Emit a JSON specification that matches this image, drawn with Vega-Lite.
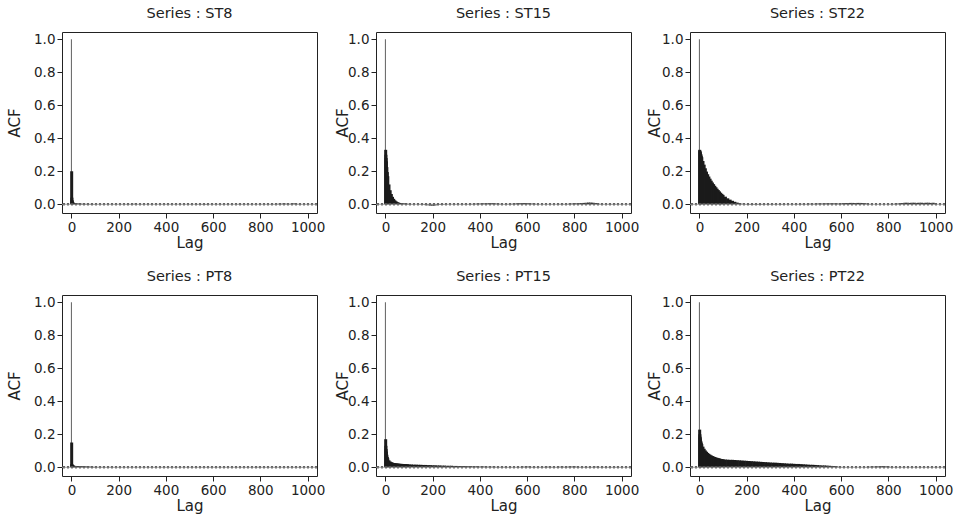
{
"$schema":"https://vega.github.io/schema/vega-lite/v6.json",
"padding":{"left":6,"top":5,"right":5,"bottom":5},
"background":"white",
"bounds":"flush",
"columns":3,
"spacing":{"row":82,"column":59},
"datasets":{
"ST8":[{"lag":0,"acf":1},{"lag":1,"acf":0.2},{"lag":2,"acf":0.04},{"lag":3,"acf":0.025},{"lag":4,"acf":0.018},{"lag":6,"acf":0.012},{"lag":8,"acf":0.009},{"lag":10,"acf":0.007},{"lag":15,"acf":0.005},{"lag":20,"acf":0.004},{"lag":25,"acf":0.004},{"lag":30,"acf":0.003},{"lag":35,"acf":0.003},{"lag":40,"acf":0.003},{"lag":45,"acf":0.002},{"lag":50,"acf":0.002},{"lag":55,"acf":0.002},{"lag":60,"acf":0.002},{"lag":65,"acf":0.001},{"lag":70,"acf":0.002},{"lag":75,"acf":0.001},{"lag":80,"acf":0.001},{"lag":85,"acf":0.002},{"lag":90,"acf":0.001},{"lag":95,"acf":0.001},{"lag":100,"acf":0.001},
{"lag":110,"acf":0.001},{"lag":120,"acf":0.0},{"lag":130,"acf":0.001},{"lag":140,"acf":-0.001},{"lag":150,"acf":0.0},{"lag":160,"acf":0.001},{"lag":170,"acf":0.0},{"lag":180,"acf":-0.001},{"lag":190,"acf":0.001},{"lag":200,"acf":0.0},
{"lag":210,"acf":0.001},{"lag":220,"acf":0.0},{"lag":230,"acf":0.001},{"lag":240,"acf":0.002},{"lag":250,"acf":0.001},{"lag":260,"acf":0.002},{"lag":270,"acf":0.003},{"lag":280,"acf":0.001},{"lag":290,"acf":0.0},{"lag":300,"acf":-0.001},
{"lag":310,"acf":0.0},{"lag":320,"acf":0.001},{"lag":330,"acf":0.0},{"lag":340,"acf":-0.001},{"lag":350,"acf":0.0},{"lag":360,"acf":0.001},{"lag":370,"acf":0.0},{"lag":380,"acf":0.001},{"lag":390,"acf":0.0},{"lag":400,"acf":-0.001},
{"lag":410,"acf":0.0},{"lag":420,"acf":0.001},{"lag":430,"acf":0.0},{"lag":440,"acf":-0.001},{"lag":450,"acf":0.0},{"lag":460,"acf":0.001},{"lag":470,"acf":0.0},{"lag":480,"acf":-0.001},{"lag":490,"acf":0.0},{"lag":500,"acf":-0.001},
{"lag":510,"acf":-0.001},{"lag":520,"acf":0.0},{"lag":530,"acf":-0.002},{"lag":540,"acf":-0.001},{"lag":550,"acf":-0.002},{"lag":560,"acf":-0.002},{"lag":570,"acf":-0.003},{"lag":580,"acf":-0.001},{"lag":590,"acf":0.0},{"lag":600,"acf":0.001},
{"lag":610,"acf":0.0},{"lag":620,"acf":0.001},{"lag":630,"acf":0.0},{"lag":640,"acf":-0.001},{"lag":650,"acf":0.0},{"lag":660,"acf":0.001},{"lag":670,"acf":0.0},{"lag":680,"acf":0.001},{"lag":690,"acf":0.0},{"lag":700,"acf":0.001},
{"lag":710,"acf":0.002},{"lag":720,"acf":0.001},{"lag":730,"acf":0.0},{"lag":740,"acf":0.001},{"lag":750,"acf":0.0},{"lag":760,"acf":-0.001},{"lag":770,"acf":0.0},{"lag":780,"acf":0.001},{"lag":790,"acf":0.0},{"lag":800,"acf":0.001},
{"lag":810,"acf":0.0},{"lag":820,"acf":0.001},{"lag":830,"acf":0.0},{"lag":840,"acf":0.001},{"lag":850,"acf":0.002},{"lag":860,"acf":0.001},{"lag":870,"acf":0.002},{"lag":880,"acf":0.003},{"lag":890,"acf":0.003},{"lag":900,"acf":0.004},
{"lag":910,"acf":0.003},{"lag":920,"acf":0.002},{"lag":930,"acf":0.003},{"lag":940,"acf":0.005},{"lag":950,"acf":0.003},{"lag":960,"acf":0.002},{"lag":970,"acf":0.001},{"lag":980,"acf":0.0},{"lag":990,"acf":0.001},{"lag":1000,"acf":0.0}],
"ST15":[{"lag":0,"acf":1},{"lag":1,"acf":0.33},{"lag":2,"acf":0.3},{"lag":3,"acf":0.28},{"lag":4,"acf":0.26},{"lag":6,"acf":0.225},{"lag":8,"acf":0.195},{"lag":10,"acf":0.17},{"lag":15,"acf":0.12},{"lag":20,"acf":0.085},{"lag":25,"acf":0.062},{"lag":30,"acf":0.045},{"lag":35,"acf":0.033},{"lag":40,"acf":0.024},{"lag":45,"acf":0.018},{"lag":50,"acf":0.013},{"lag":55,"acf":0.01},{"lag":60,"acf":0.008},{"lag":65,"acf":0.006},{"lag":70,"acf":0.005},{"lag":75,"acf":0.004},{"lag":80,"acf":0.004},{"lag":85,"acf":0.003},{"lag":90,"acf":0.003},{"lag":95,"acf":0.002},{"lag":100,"acf":0.002},
{"lag":110,"acf":0.001},{"lag":120,"acf":0.001},{"lag":130,"acf":0.0},{"lag":140,"acf":-0.001},{"lag":150,"acf":-0.002},{"lag":160,"acf":-0.003},{"lag":170,"acf":-0.005},{"lag":180,"acf":-0.006},{"lag":190,"acf":-0.007},{"lag":200,"acf":-0.008},
{"lag":210,"acf":-0.007},{"lag":220,"acf":-0.005},{"lag":230,"acf":-0.004},{"lag":240,"acf":-0.003},{"lag":250,"acf":-0.002},{"lag":260,"acf":-0.001},{"lag":270,"acf":0.0},{"lag":280,"acf":0.0},{"lag":290,"acf":0.001},{"lag":300,"acf":0.001},
{"lag":310,"acf":0.0},{"lag":320,"acf":0.001},{"lag":330,"acf":0.001},{"lag":340,"acf":0.002},{"lag":350,"acf":0.001},{"lag":360,"acf":0.002},{"lag":370,"acf":0.002},{"lag":380,"acf":0.003},{"lag":390,"acf":0.003},{"lag":400,"acf":0.004},
{"lag":410,"acf":0.004},{"lag":420,"acf":0.005},{"lag":430,"acf":0.005},{"lag":440,"acf":0.006},{"lag":450,"acf":0.006},{"lag":460,"acf":0.005},{"lag":470,"acf":0.004},{"lag":480,"acf":0.003},{"lag":490,"acf":0.002},{"lag":500,"acf":0.001},
{"lag":510,"acf":0.001},{"lag":520,"acf":0.002},{"lag":530,"acf":0.002},{"lag":540,"acf":0.003},{"lag":550,"acf":0.004},{"lag":560,"acf":0.005},{"lag":570,"acf":0.006},{"lag":580,"acf":0.006},{"lag":590,"acf":0.007},{"lag":600,"acf":0.006},
{"lag":610,"acf":0.005},{"lag":620,"acf":0.004},{"lag":630,"acf":0.003},{"lag":640,"acf":0.002},{"lag":650,"acf":0.001},{"lag":660,"acf":0.0},{"lag":670,"acf":0.001},{"lag":680,"acf":0.0},{"lag":690,"acf":-0.001},{"lag":700,"acf":0.0},
{"lag":710,"acf":0.001},{"lag":720,"acf":0.0},{"lag":730,"acf":0.001},{"lag":740,"acf":0.002},{"lag":750,"acf":0.002},{"lag":760,"acf":0.001},{"lag":770,"acf":0.002},{"lag":780,"acf":0.003},{"lag":790,"acf":0.004},{"lag":800,"acf":0.005},
{"lag":810,"acf":0.005},{"lag":820,"acf":0.006},{"lag":830,"acf":0.007},{"lag":840,"acf":0.008},{"lag":850,"acf":0.009},{"lag":860,"acf":0.01},{"lag":870,"acf":0.01},{"lag":880,"acf":0.009},{"lag":890,"acf":0.007},{"lag":900,"acf":0.004},
{"lag":910,"acf":0.002},{"lag":920,"acf":0.001},{"lag":930,"acf":0.0},{"lag":940,"acf":0.001},{"lag":950,"acf":0.002},{"lag":960,"acf":0.001},{"lag":970,"acf":0.002},{"lag":980,"acf":0.001},{"lag":990,"acf":0.0},{"lag":1000,"acf":0.001}],
"ST22":[{"lag":0,"acf":1},{"lag":1,"acf":0.33},{"lag":2,"acf":0.325},{"lag":3,"acf":0.32},{"lag":4,"acf":0.315},{"lag":6,"acf":0.305},{"lag":8,"acf":0.295},{"lag":10,"acf":0.285},{"lag":15,"acf":0.262},{"lag":20,"acf":0.24},{"lag":25,"acf":0.218},{"lag":30,"acf":0.198},{"lag":35,"acf":0.182},{"lag":40,"acf":0.168},{"lag":45,"acf":0.155},{"lag":50,"acf":0.143},{"lag":55,"acf":0.132},{"lag":60,"acf":0.122},{"lag":65,"acf":0.112},{"lag":70,"acf":0.103},{"lag":75,"acf":0.094},{"lag":80,"acf":0.086},{"lag":85,"acf":0.078},{"lag":90,"acf":0.07},{"lag":95,"acf":0.063},{"lag":100,"acf":0.057},
{"lag":110,"acf":0.046},{"lag":120,"acf":0.036},{"lag":130,"acf":0.028},{"lag":140,"acf":0.021},{"lag":150,"acf":0.015},{"lag":160,"acf":0.01},{"lag":170,"acf":0.006},{"lag":180,"acf":0.003},{"lag":190,"acf":0.0},{"lag":200,"acf":-0.002},
{"lag":210,"acf":-0.003},{"lag":220,"acf":-0.003},{"lag":230,"acf":-0.003},{"lag":240,"acf":-0.002},{"lag":250,"acf":-0.003},{"lag":260,"acf":-0.002},{"lag":270,"acf":-0.002},{"lag":280,"acf":-0.001},{"lag":290,"acf":-0.002},{"lag":300,"acf":-0.002},
{"lag":310,"acf":-0.001},{"lag":320,"acf":-0.002},{"lag":330,"acf":-0.001},{"lag":340,"acf":-0.001},{"lag":350,"acf":-0.002},{"lag":360,"acf":-0.001},{"lag":370,"acf":0.0},{"lag":380,"acf":-0.001},{"lag":390,"acf":0.0},{"lag":400,"acf":0.001},
{"lag":410,"acf":0.002},{"lag":420,"acf":0.001},{"lag":430,"acf":0.002},{"lag":440,"acf":0.002},{"lag":450,"acf":0.001},{"lag":460,"acf":0.002},{"lag":470,"acf":0.003},{"lag":480,"acf":0.002},{"lag":490,"acf":0.003},{"lag":500,"acf":0.004},
{"lag":510,"acf":0.003},{"lag":520,"acf":0.004},{"lag":530,"acf":0.004},{"lag":540,"acf":0.005},{"lag":550,"acf":0.005},{"lag":560,"acf":0.004},{"lag":570,"acf":0.005},{"lag":580,"acf":0.004},{"lag":590,"acf":0.004},{"lag":600,"acf":0.005},
{"lag":610,"acf":0.006},{"lag":620,"acf":0.007},{"lag":630,"acf":0.007},{"lag":640,"acf":0.008},{"lag":650,"acf":0.008},{"lag":660,"acf":0.007},{"lag":670,"acf":0.008},{"lag":680,"acf":0.008},{"lag":690,"acf":0.007},{"lag":700,"acf":0.006},
{"lag":710,"acf":0.004},{"lag":720,"acf":0.002},{"lag":730,"acf":0.001},{"lag":740,"acf":0.0},{"lag":750,"acf":-0.001},{"lag":760,"acf":-0.001},{"lag":770,"acf":0.0},{"lag":780,"acf":-0.001},{"lag":790,"acf":0.0},{"lag":800,"acf":0.001},
{"lag":810,"acf":0.002},{"lag":820,"acf":0.002},{"lag":830,"acf":0.003},{"lag":840,"acf":0.004},{"lag":850,"acf":0.005},{"lag":860,"acf":0.007},{"lag":870,"acf":0.009},{"lag":880,"acf":0.009},{"lag":890,"acf":0.008},{"lag":900,"acf":0.009},
{"lag":910,"acf":0.009},{"lag":920,"acf":0.008},{"lag":930,"acf":0.009},{"lag":940,"acf":0.009},{"lag":950,"acf":0.008},{"lag":960,"acf":0.009},{"lag":970,"acf":0.009},{"lag":980,"acf":0.008},{"lag":990,"acf":0.009},{"lag":1000,"acf":0.004}],
"PT8":[{"lag":0,"acf":1},{"lag":1,"acf":0.15},{"lag":2,"acf":0.02},{"lag":3,"acf":0.015},{"lag":4,"acf":0.013},{"lag":6,"acf":0.011},{"lag":8,"acf":0.01},{"lag":10,"acf":0.009},{"lag":15,"acf":0.008},{"lag":20,"acf":0.007},{"lag":25,"acf":0.006},{"lag":30,"acf":0.006},{"lag":35,"acf":0.005},{"lag":40,"acf":0.005},{"lag":45,"acf":0.005},{"lag":50,"acf":0.004},{"lag":55,"acf":0.004},{"lag":60,"acf":0.004},{"lag":65,"acf":0.003},{"lag":70,"acf":0.003},{"lag":75,"acf":0.003},{"lag":80,"acf":0.003},{"lag":85,"acf":0.002},{"lag":90,"acf":0.002},{"lag":95,"acf":0.002},{"lag":100,"acf":0.002},
{"lag":110,"acf":0.002},{"lag":120,"acf":0.001},{"lag":130,"acf":0.002},{"lag":140,"acf":0.001},{"lag":150,"acf":0.001},{"lag":160,"acf":0.002},{"lag":170,"acf":0.001},{"lag":180,"acf":0.001},{"lag":190,"acf":0.0},{"lag":200,"acf":0.001},
{"lag":210,"acf":0.001},{"lag":220,"acf":0.0},{"lag":230,"acf":0.001},{"lag":240,"acf":0.0},{"lag":250,"acf":0.001},{"lag":260,"acf":0.0},{"lag":270,"acf":-0.001},{"lag":280,"acf":0.0},{"lag":290,"acf":0.001},{"lag":300,"acf":0.0},
{"lag":310,"acf":-0.001},{"lag":320,"acf":0.0},{"lag":330,"acf":0.001},{"lag":340,"acf":0.0},{"lag":350,"acf":-0.001},{"lag":360,"acf":0.0},{"lag":370,"acf":0.0},{"lag":380,"acf":0.001},{"lag":390,"acf":0.0},{"lag":400,"acf":-0.001},
{"lag":410,"acf":0.0},{"lag":420,"acf":0.001},{"lag":430,"acf":0.0},{"lag":440,"acf":-0.001},{"lag":450,"acf":0.0},{"lag":460,"acf":0.001},{"lag":470,"acf":0.0},{"lag":480,"acf":0.0},{"lag":490,"acf":0.001},{"lag":500,"acf":0.0},
{"lag":510,"acf":-0.001},{"lag":520,"acf":0.0},{"lag":530,"acf":0.001},{"lag":540,"acf":0.0},{"lag":550,"acf":-0.001},{"lag":560,"acf":0.0},{"lag":570,"acf":0.001},{"lag":580,"acf":0.0},{"lag":590,"acf":-0.001},{"lag":600,"acf":0.0},
{"lag":610,"acf":0.001},{"lag":620,"acf":0.0},{"lag":630,"acf":-0.001},{"lag":640,"acf":0.0},{"lag":650,"acf":0.001},{"lag":660,"acf":0.0},{"lag":670,"acf":0.0},{"lag":680,"acf":0.001},{"lag":690,"acf":0.0},{"lag":700,"acf":-0.001},
{"lag":710,"acf":0.0},{"lag":720,"acf":0.001},{"lag":730,"acf":0.0},{"lag":740,"acf":-0.001},{"lag":750,"acf":0.0},{"lag":760,"acf":0.001},{"lag":770,"acf":0.0},{"lag":780,"acf":0.001},{"lag":790,"acf":0.002},{"lag":800,"acf":0.001},
{"lag":810,"acf":0.0},{"lag":820,"acf":0.001},{"lag":830,"acf":0.0},{"lag":840,"acf":-0.001},{"lag":850,"acf":0.0},{"lag":860,"acf":0.001},{"lag":870,"acf":0.0},{"lag":880,"acf":-0.001},{"lag":890,"acf":0.0},{"lag":900,"acf":0.001},
{"lag":910,"acf":0.0},{"lag":920,"acf":-0.001},{"lag":930,"acf":0.0},{"lag":940,"acf":0.001},{"lag":950,"acf":0.0},{"lag":960,"acf":-0.001},{"lag":970,"acf":0.0},{"lag":980,"acf":0.001},{"lag":990,"acf":0.0},{"lag":1000,"acf":0.0}],
"PT15":[{"lag":0,"acf":1},{"lag":1,"acf":0.17},{"lag":2,"acf":0.13},{"lag":3,"acf":0.11},{"lag":4,"acf":0.095},{"lag":6,"acf":0.076},{"lag":8,"acf":0.063},{"lag":10,"acf":0.054},{"lag":15,"acf":0.042},{"lag":20,"acf":0.035},{"lag":25,"acf":0.031},{"lag":30,"acf":0.028},{"lag":35,"acf":0.026},{"lag":40,"acf":0.025},{"lag":45,"acf":0.024},{"lag":50,"acf":0.023},{"lag":55,"acf":0.022},{"lag":60,"acf":0.021},{"lag":65,"acf":0.021},{"lag":70,"acf":0.02},{"lag":75,"acf":0.02},{"lag":80,"acf":0.019},{"lag":85,"acf":0.019},{"lag":90,"acf":0.018},{"lag":95,"acf":0.018},{"lag":100,"acf":0.017},
{"lag":110,"acf":0.017},{"lag":120,"acf":0.016},{"lag":130,"acf":0.016},{"lag":140,"acf":0.015},{"lag":150,"acf":0.015},{"lag":160,"acf":0.014},{"lag":170,"acf":0.014},{"lag":180,"acf":0.013},{"lag":190,"acf":0.013},{"lag":200,"acf":0.012},
{"lag":210,"acf":0.012},{"lag":220,"acf":0.011},{"lag":230,"acf":0.011},{"lag":240,"acf":0.01},{"lag":250,"acf":0.01},{"lag":260,"acf":0.009},{"lag":270,"acf":0.009},{"lag":280,"acf":0.009},{"lag":290,"acf":0.008},{"lag":300,"acf":0.008},
{"lag":310,"acf":0.007},{"lag":320,"acf":0.007},{"lag":330,"acf":0.007},{"lag":340,"acf":0.006},{"lag":350,"acf":0.006},{"lag":360,"acf":0.006},{"lag":370,"acf":0.005},{"lag":380,"acf":0.005},{"lag":390,"acf":0.005},{"lag":400,"acf":0.004},
{"lag":410,"acf":0.004},{"lag":420,"acf":0.004},{"lag":430,"acf":0.003},{"lag":440,"acf":0.003},{"lag":450,"acf":0.003},{"lag":460,"acf":0.003},{"lag":470,"acf":0.002},{"lag":480,"acf":0.002},{"lag":490,"acf":0.002},{"lag":500,"acf":0.002},
{"lag":510,"acf":0.002},{"lag":520,"acf":0.001},{"lag":530,"acf":0.002},{"lag":540,"acf":0.001},{"lag":550,"acf":0.001},{"lag":560,"acf":0.002},{"lag":570,"acf":0.002},{"lag":580,"acf":0.003},{"lag":590,"acf":0.003},{"lag":600,"acf":0.004},
{"lag":610,"acf":0.003},{"lag":620,"acf":0.002},{"lag":630,"acf":0.002},{"lag":640,"acf":0.001},{"lag":650,"acf":0.002},{"lag":660,"acf":0.001},{"lag":670,"acf":0.002},{"lag":680,"acf":0.002},{"lag":690,"acf":0.003},{"lag":700,"acf":0.002},
{"lag":710,"acf":0.002},{"lag":720,"acf":0.001},{"lag":730,"acf":0.002},{"lag":740,"acf":0.003},{"lag":750,"acf":0.003},{"lag":760,"acf":0.002},{"lag":770,"acf":0.003},{"lag":780,"acf":0.003},{"lag":790,"acf":0.004},{"lag":800,"acf":0.004},
{"lag":810,"acf":0.003},{"lag":820,"acf":0.002},{"lag":830,"acf":0.001},{"lag":840,"acf":0.002},{"lag":850,"acf":0.001},{"lag":860,"acf":0.002},{"lag":870,"acf":0.001},{"lag":880,"acf":0.002},{"lag":890,"acf":0.003},{"lag":900,"acf":0.002},
{"lag":910,"acf":0.001},{"lag":920,"acf":0.002},{"lag":930,"acf":0.001},{"lag":940,"acf":0.001},{"lag":950,"acf":0.002},{"lag":960,"acf":0.001},{"lag":970,"acf":0.001},{"lag":980,"acf":0.002},{"lag":990,"acf":0.001},{"lag":1000,"acf":0.001}],
"PT22":[{"lag":0,"acf":1},{"lag":1,"acf":0.228},{"lag":2,"acf":0.2},{"lag":3,"acf":0.185},{"lag":4,"acf":0.175},{"lag":6,"acf":0.16},{"lag":8,"acf":0.15},{"lag":10,"acf":0.14},{"lag":15,"acf":0.125},{"lag":20,"acf":0.112},{"lag":25,"acf":0.102},{"lag":30,"acf":0.094},{"lag":35,"acf":0.087},{"lag":40,"acf":0.081},{"lag":45,"acf":0.076},{"lag":50,"acf":0.072},{"lag":55,"acf":0.068},{"lag":60,"acf":0.065},{"lag":65,"acf":0.062},{"lag":70,"acf":0.059},{"lag":75,"acf":0.057},{"lag":80,"acf":0.055},{"lag":85,"acf":0.053},{"lag":90,"acf":0.051},{"lag":95,"acf":0.05},{"lag":100,"acf":0.049},
{"lag":110,"acf":0.047},{"lag":120,"acf":0.046},{"lag":130,"acf":0.045},{"lag":140,"acf":0.045},{"lag":150,"acf":0.044},{"lag":160,"acf":0.043},{"lag":170,"acf":0.042},{"lag":180,"acf":0.041},{"lag":190,"acf":0.04},{"lag":200,"acf":0.039},
{"lag":210,"acf":0.038},{"lag":220,"acf":0.037},{"lag":230,"acf":0.036},{"lag":240,"acf":0.035},{"lag":250,"acf":0.034},{"lag":260,"acf":0.033},{"lag":270,"acf":0.032},{"lag":280,"acf":0.031},{"lag":290,"acf":0.03},{"lag":300,"acf":0.029},
{"lag":310,"acf":0.028},{"lag":320,"acf":0.028},{"lag":330,"acf":0.027},{"lag":340,"acf":0.026},{"lag":350,"acf":0.025},{"lag":360,"acf":0.024},{"lag":370,"acf":0.023},{"lag":380,"acf":0.022},{"lag":390,"acf":0.022},{"lag":400,"acf":0.021},
{"lag":410,"acf":0.02},{"lag":420,"acf":0.02},{"lag":430,"acf":0.019},{"lag":440,"acf":0.018},{"lag":450,"acf":0.017},{"lag":460,"acf":0.016},{"lag":470,"acf":0.015},{"lag":480,"acf":0.015},{"lag":490,"acf":0.014},{"lag":500,"acf":0.013},
{"lag":510,"acf":0.012},{"lag":520,"acf":0.011},{"lag":530,"acf":0.011},{"lag":540,"acf":0.01},{"lag":550,"acf":0.009},{"lag":560,"acf":0.008},{"lag":570,"acf":0.007},{"lag":580,"acf":0.005},{"lag":590,"acf":0.003},{"lag":600,"acf":0.002},
{"lag":610,"acf":0.001},{"lag":620,"acf":0.001},{"lag":630,"acf":0.0},{"lag":640,"acf":0.001},{"lag":650,"acf":0.0},{"lag":660,"acf":-0.001},{"lag":670,"acf":0.0},{"lag":680,"acf":0.001},{"lag":690,"acf":0.0},{"lag":700,"acf":0.001},
{"lag":710,"acf":0.002},{"lag":720,"acf":0.003},{"lag":730,"acf":0.003},{"lag":740,"acf":0.004},{"lag":750,"acf":0.004},{"lag":760,"acf":0.005},{"lag":770,"acf":0.006},{"lag":780,"acf":0.006},{"lag":790,"acf":0.005},{"lag":800,"acf":0.004},
{"lag":810,"acf":0.002},{"lag":820,"acf":0.001},{"lag":830,"acf":0.0},{"lag":840,"acf":0.001},{"lag":850,"acf":0.0},{"lag":860,"acf":-0.001},{"lag":870,"acf":0.0},{"lag":880,"acf":0.001},{"lag":890,"acf":0.0},{"lag":900,"acf":-0.001},
{"lag":910,"acf":0.0},{"lag":920,"acf":0.001},{"lag":930,"acf":0.0},{"lag":940,"acf":-0.001},{"lag":950,"acf":0.0},{"lag":960,"acf":0.001},{"lag":970,"acf":0.0},{"lag":980,"acf":-0.001},{"lag":990,"acf":0.0},{"lag":1000,"acf":0.001}],
"ZERO":[{"acf":0}],
"CI":[{"acf":0.004},{"acf":-0.004}]
},
"concat":[
{"title":"Series : ST8","width":255,"height":181,"layer":[
 {"data":{"name":"ST8"},"mark":{"type":"rule"},"encoding":{"x":{"field":"lag","type":"quantitative","scale":{"domain":[-40,1040],"nice":false,"zero":false},"axis":{"values":[0,200,400,600,800,1000],"tickCount":10,"format":"d","title":"Lag"}},"y":{"field":"acf","type":"quantitative","scale":{"domain":[-0.053,1.044],"nice":false,"zero":false},"axis":{"values":[0,0.2,0.4,0.6,0.8,1],"tickCount":10,"format":".1f","title":"ACF","titleX":-43}},"y2":{"datum":0},"color":{"condition":{"test":"datum.lag==0","value":"#6e6e6e"},"value":"#1b1b1b"},"strokeWidth":{"condition":{"test":"datum.lag==0","value":1.1},"value":3}}},
 {"data":{"name":"ZERO"},"mark":{"type":"rule","color":"#a0a0a0","strokeWidth":1},"encoding":{"y":{"field":"acf","type":"quantitative"}}},
 {"data":{"name":"CI"},"mark":{"type":"rule","color":"#555555","strokeWidth":1,"strokeDash":[2,2]},"encoding":{"y":{"field":"acf","type":"quantitative"}}}
]},
{"title":"Series : ST15","width":255,"height":181,"layer":[
 {"data":{"name":"ST15"},"mark":{"type":"rule"},"encoding":{"x":{"field":"lag","type":"quantitative","scale":{"domain":[-40,1040],"nice":false,"zero":false},"axis":{"values":[0,200,400,600,800,1000],"tickCount":10,"format":"d","title":"Lag"}},"y":{"field":"acf","type":"quantitative","scale":{"domain":[-0.053,1.044],"nice":false,"zero":false},"axis":{"values":[0,0.2,0.4,0.6,0.8,1],"tickCount":10,"format":".1f","title":"ACF","titleX":-29}},"y2":{"datum":0},"color":{"condition":{"test":"datum.lag==0","value":"#6e6e6e"},"value":"#1b1b1b"},"strokeWidth":{"condition":{"test":"datum.lag==0","value":1.1},"value":3}}},
 {"data":{"name":"ZERO"},"mark":{"type":"rule","color":"#a0a0a0","strokeWidth":1},"encoding":{"y":{"field":"acf","type":"quantitative"}}},
 {"data":{"name":"CI"},"mark":{"type":"rule","color":"#555555","strokeWidth":1,"strokeDash":[2,2]},"encoding":{"y":{"field":"acf","type":"quantitative"}}}
]},
{"title":"Series : ST22","width":255,"height":181,"layer":[
 {"data":{"name":"ST22"},"mark":{"type":"rule"},"encoding":{"x":{"field":"lag","type":"quantitative","scale":{"domain":[-40,1040],"nice":false,"zero":false},"axis":{"values":[0,200,400,600,800,1000],"tickCount":10,"format":"d","title":"Lag"}},"y":{"field":"acf","type":"quantitative","scale":{"domain":[-0.053,1.044],"nice":false,"zero":false},"axis":{"values":[0,0.2,0.4,0.6,0.8,1],"tickCount":10,"format":".1f","title":"ACF","titleX":-31}},"y2":{"datum":0},"color":{"condition":{"test":"datum.lag==0","value":"#6e6e6e"},"value":"#1b1b1b"},"strokeWidth":{"condition":{"test":"datum.lag==0","value":1.1},"value":3}}},
 {"data":{"name":"ZERO"},"mark":{"type":"rule","color":"#a0a0a0","strokeWidth":1},"encoding":{"y":{"field":"acf","type":"quantitative"}}},
 {"data":{"name":"CI"},"mark":{"type":"rule","color":"#555555","strokeWidth":1,"strokeDash":[2,2]},"encoding":{"y":{"field":"acf","type":"quantitative"}}}
]},
{"title":"Series : PT8","width":255,"height":181,"layer":[
 {"data":{"name":"PT8"},"mark":{"type":"rule"},"encoding":{"x":{"field":"lag","type":"quantitative","scale":{"domain":[-40,1040],"nice":false,"zero":false},"axis":{"values":[0,200,400,600,800,1000],"tickCount":10,"format":"d","title":"Lag"}},"y":{"field":"acf","type":"quantitative","scale":{"domain":[-0.053,1.044],"nice":false,"zero":false},"axis":{"values":[0,0.2,0.4,0.6,0.8,1],"tickCount":10,"format":".1f","title":"ACF","titleX":-43}},"y2":{"datum":0},"color":{"condition":{"test":"datum.lag==0","value":"#6e6e6e"},"value":"#1b1b1b"},"strokeWidth":{"condition":{"test":"datum.lag==0","value":1.1},"value":3}}},
 {"data":{"name":"ZERO"},"mark":{"type":"rule","color":"#a0a0a0","strokeWidth":1},"encoding":{"y":{"field":"acf","type":"quantitative"}}},
 {"data":{"name":"CI"},"mark":{"type":"rule","color":"#555555","strokeWidth":1,"strokeDash":[2,2]},"encoding":{"y":{"field":"acf","type":"quantitative"}}}
]},
{"title":"Series : PT15","width":255,"height":181,"layer":[
 {"data":{"name":"PT15"},"mark":{"type":"rule"},"encoding":{"x":{"field":"lag","type":"quantitative","scale":{"domain":[-40,1040],"nice":false,"zero":false},"axis":{"values":[0,200,400,600,800,1000],"tickCount":10,"format":"d","title":"Lag"}},"y":{"field":"acf","type":"quantitative","scale":{"domain":[-0.053,1.044],"nice":false,"zero":false},"axis":{"values":[0,0.2,0.4,0.6,0.8,1],"tickCount":10,"format":".1f","title":"ACF","titleX":-29}},"y2":{"datum":0},"color":{"condition":{"test":"datum.lag==0","value":"#6e6e6e"},"value":"#1b1b1b"},"strokeWidth":{"condition":{"test":"datum.lag==0","value":1.1},"value":3}}},
 {"data":{"name":"ZERO"},"mark":{"type":"rule","color":"#a0a0a0","strokeWidth":1},"encoding":{"y":{"field":"acf","type":"quantitative"}}},
 {"data":{"name":"CI"},"mark":{"type":"rule","color":"#555555","strokeWidth":1,"strokeDash":[2,2]},"encoding":{"y":{"field":"acf","type":"quantitative"}}}
]},
{"title":"Series : PT22","width":255,"height":181,"layer":[
 {"data":{"name":"PT22"},"mark":{"type":"rule"},"encoding":{"x":{"field":"lag","type":"quantitative","scale":{"domain":[-40,1040],"nice":false,"zero":false},"axis":{"values":[0,200,400,600,800,1000],"tickCount":10,"format":"d","title":"Lag"}},"y":{"field":"acf","type":"quantitative","scale":{"domain":[-0.053,1.044],"nice":false,"zero":false},"axis":{"values":[0,0.2,0.4,0.6,0.8,1],"tickCount":10,"format":".1f","title":"ACF","titleX":-31}},"y2":{"datum":0},"color":{"condition":{"test":"datum.lag==0","value":"#6e6e6e"},"value":"#1b1b1b"},"strokeWidth":{"condition":{"test":"datum.lag==0","value":1.1},"value":3}}},
 {"data":{"name":"ZERO"},"mark":{"type":"rule","color":"#a0a0a0","strokeWidth":1},"encoding":{"y":{"field":"acf","type":"quantitative"}}},
 {"data":{"name":"CI"},"mark":{"type":"rule","color":"#555555","strokeWidth":1,"strokeDash":[2,2]},"encoding":{"y":{"field":"acf","type":"quantitative"}}}
]}
],
"config":{
 "view":{"stroke":"#222222","strokeWidth":1},
 "axis":{"grid":false,"domain":false,"tickColor":"#222222","tickSize":5,"labelColor":"#222222","labelFont":"DejaVu Sans","labelFontSize":13.5,"labelOverlap":false,"labelBound":false,"titleFont":"DejaVu Sans","titleFontSize":15,"titleFontWeight":"normal","titleColor":"#222222"},
 "axisX":{"labelPadding":2,"titlePadding":2,"labelFlush":false},
 "axisY":{"labelPadding":2,"titleBaseline":"alphabetic","labelFlush":false},
 "title":{"font":"DejaVu Sans","fontSize":14.5,"fontWeight":"normal","color":"#222222","anchor":"middle","baseline":"alphabetic","offset":11}
}
}
